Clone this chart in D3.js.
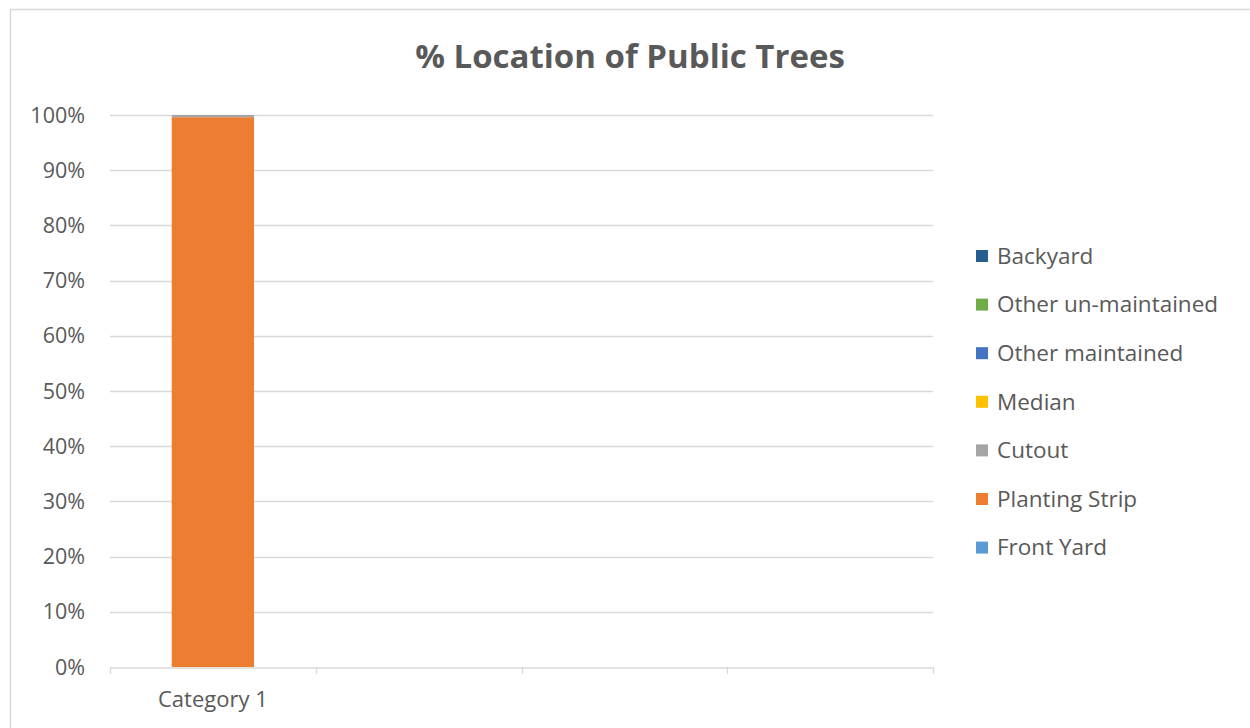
<!DOCTYPE html>
<html>
<head>
<meta charset="utf-8">
<script src="https://cdn.jsdelivr.net/npm/d3@7"></script>
<style>
  body { margin: 0; background: #fff; }
  text { font-family: "Open Sans", "Noto Sans", sans-serif; fill: #595959; }
</style>
</head>
<body>
<div id="chart"></div>
<script>
var width = 1250,
  height = 728;

var margin = { top: 115, right: 317, bottom: 61, left: 110 };

// data
var categories = ["Category 1", "", "", ""];
var seriesNames = ["Front Yard", "Planting Strip", "Cutout", "Median", "Other maintained", "Other un-maintained", "Backyard"];
var seriesColors = ["#5B9BD5", "#ED7D31", "#A5A5A5", "#FFC000", "#4472C4", "#70AD47", "#255E91"];
var frontYard = [0, 0, 0, 0];
var plantingStrip = [99.6, 0, 0, 0];
var cutout = [0.4, 0, 0, 0];
var median = [0, 0, 0, 0];
var otherMaintained = [0, 0, 0, 0];
var otherUnmaintained = [0, 0, 0, 0];
var backyard = [0, 0, 0, 0];
var yTicks = [0, 0.1, 0.2, 0.3, 0.4, 0.5, 0.6, 0.7, 0.8, 0.9, 1];

var seriesValues = [frontYard, plantingStrip, cutout, median, otherMaintained, otherUnmaintained, backyard];

var rows = categories.map(function(c, i) {
  var r = { idx: i };
  seriesNames.forEach(function(s, k) { r[s] = seriesValues[k][i]; });
  return r;
});

var stack = d3.stack()
  .keys(seriesNames)
  .offset(d3.stackOffsetExpand);
var stacked = stack(rows);

var color = d3.scaleOrdinal().domain(seriesNames).range(seriesColors);

var svg = d3.select("#chart")
  .append("svg")
  .attr("width", width)
  .attr("height", height);

// outer frame
svg.append("rect")
  .attr("x", 10.5)
  .attr("y", 9.5)
  .attr("width", width)
  .attr("height", height)
  .attr("fill", "none")
  .attr("stroke", "#d9d9d9")
  .attr("stroke-width", 1.5);

var x = d3.scaleBand()
  .domain(d3.range(categories.length))
  .range([margin.left, width - margin.right]);

var barWidth = x.bandwidth() * 0.4;

var y = d3.scaleLinear()
  .domain([0, 1])
  .range([height - margin.bottom, margin.top]);

// gridlines
svg.append("g")
  .attr("class", "grid")
  .selectAll("line")
  .data(yTicks.slice(1))
  .enter().append("line")
  .attr("x1", margin.left)
  .attr("x2", width - margin.right)
  .attr("y1", function(d) { return Math.round(y(d)) + 0.5; })
  .attr("y2", function(d) { return Math.round(y(d)) + 0.5; })
  .attr("stroke", "#d9d9d9")
  .attr("stroke-width", 1.3);

// y labels
svg.append("g")
  .selectAll("text")
  .data(yTicks)
  .enter().append("text")
  .attr("x", 85)
  .attr("y", function(d) { return y(d); })
  .attr("dy", "0.35em")
  .attr("text-anchor", "end")
  .style("font-size", "21.5px")
  .text(d3.format(".0%"));

// bars
svg.append("g")
  .selectAll("g")
  .data(stacked)
  .enter().append("g")
  .attr("fill", function(d) { return color(d.key); })
  .selectAll("rect")
  .data(function(d) { return d; })
  .enter().append("rect")
  .attr("x", function(d) { return x(d.data.idx) + (x.bandwidth() - barWidth) / 2; })
  .attr("width", barWidth)
  .attr("y", function(d) { return y(d[1]); })
  .attr("height", function(d) { return Math.max(0, y(d[0]) - y(d[1])); });

// x axis
var xAxis = d3.axisBottom(x)
  .tickSize(0)
  .tickFormat(function(i) { return categories[i]; });

var gx = svg.append("g")
  .attr("transform", "translate(0," + (Math.round(y(0)) + 0.5) + ")")
  .call(xAxis);
gx.select(".domain").attr("stroke", "#d9d9d9").attr("stroke-width", 1.3);
gx.selectAll("text")
  .attr("dy", null)
  .attr("y", 39)
  .style("font-size", "22px")
  .style("font-family", null)
  .attr("fill", null);

// x tick marks on band edges
svg.append("g")
  .selectAll("line")
  .data(d3.range(categories.length + 1))
  .enter().append("line")
  .attr("x1", function(i) { return Math.round(margin.left + i * x.step()) + 0.5; })
  .attr("x2", function(i) { return Math.round(margin.left + i * x.step()) + 0.5; })
  .attr("y1", Math.round(y(0)))
  .attr("y2", Math.round(y(0)) + 7)
  .attr("stroke", "#d9d9d9")
  .attr("stroke-width", 1.3);

// title
svg.append("text")
  .attr("x", 630)
  .attr("y", 68)
  .attr("text-anchor", "middle")
  .style("font-size", "33px")
  .style("font-weight", "bold")
  .text("% Location of Public Trees");

// legend (reversed order like the original)
var legend = svg.append("g")
  .selectAll("g")
  .data(seriesNames.slice().reverse())
  .enter().append("g")
  .attr("transform", function(d, i) { return "translate(976," + (256 + i * 48.6) + ")"; });

legend.append("rect")
  .attr("x", 0)
  .attr("y", -6)
  .attr("width", 12)
  .attr("height", 12)
  .attr("fill", function(d) { return color(d); });

legend.append("text")
  .attr("x", 21)
  .attr("dy", "0.35em")
  .style("font-size", "22.5px")
  .text(function(d) { return d; });
</script>
</body>
</html>
